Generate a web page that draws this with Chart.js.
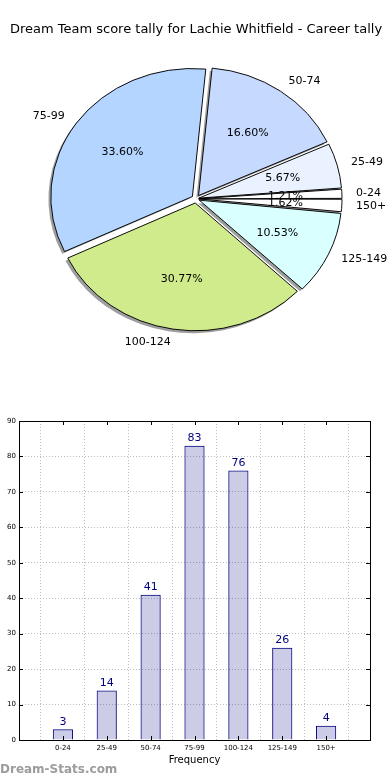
<!DOCTYPE html>
<html>
<head>
<meta charset="utf-8">
<script src="https://cdn.jsdelivr.net/npm/chart.js@4.4.1/dist/chart.umd.min.js"></script>
<style>
  html, body { margin: 0; padding: 0; background: #fff; }
  body { width: 390px; height: 780px; position: relative; overflow: hidden; }
  #pieWrap { position: absolute; left: 0; top: 0; width: 390px; height: 400px; }
  #barWrap { position: absolute; left: 0; top: 400px; width: 390px; height: 380px; }
  #credit { position: absolute; left: 0; top: 762px; font: bold 12px "DejaVu Sans", sans-serif; color: #9c9c9c; }
</style>
</head>
<body>
<div id="pieWrap"><canvas id="pieChart" width="390" height="400"></canvas></div>
<div id="barWrap"><canvas id="barChart" width="390" height="380"></canvas></div>
<div id="credit">Dream-Stats.com</div>

<script>
// Chart data
const chartTitle = "Dream Team score tally for Lachie Whitfield - Career tally";
const categories = ["0-24", "25-49", "50-74", "75-99", "100-124", "125-149", "150+"];
const frequencies = [3, 14, 41, 83, 76, 26, 4];
const sliceColors = ["#ffffff", "#eaf2ff", "#c6d9ff", "#b3d5ff", "#d0eb8b", "#d9ffff", "#ffffff"];
const yMax = 90;
const yStep = 10;
const xTitle = "Frequency";

const FONT = '"DejaVu Sans", sans-serif';
const ySquash = 0.904; // the reference pie is drawn slightly flattened
const explode = 5;     // px every slice is pushed out

Chart.defaults.font.family = FONT;
Chart.defaults.color = "#000";

// pie goes counter-clockwise from 3 o'clock in the original, so feed it reversed
const pieLabels = categories.slice().reverse();
const pieValues = frequencies.slice().reverse();
const pieColors = sliceColors.slice().reverse();
const total = frequencies.reduce((a, b) => a + b, 0);

// Chart.js moves an arc by offset/4 * (1 + fix), undo that so all slices move the same
function sliceOffset(ctx) {
  const circ = (2 * Math.PI * pieValues[ctx.dataIndex]) / total;
  const fix = 1 - Math.sin(Math.min(Math.PI, circ));
  return (4 * explode) / (1 + fix);
}

function sliceCenter(arc) {
  const mid = (arc.startAngle + arc.endAngle) / 2;
  return {
    mid: mid,
    x: arc.x + Math.cos(mid) * explode,
    y: arc.y + Math.sin(mid) * explode * ySquash,
  };
}

// flatten the pie, draw the drop shadows underneath and the labels on top
const pieDecor = {
  id: "pieDecor",
  beforeDatasetsDraw(chart) {
    const ctx = chart.ctx;
    const arcs = chart.getDatasetMeta(0).data;
    const cy = arcs[0].y;
    ctx.save();
    ctx.translate(0, cy);
    ctx.scale(1, ySquash);
    ctx.translate(0, -cy);

    // shadows
    ctx.save();
    ctx.translate(-2.5, 2.8);
    ctx.fillStyle = "rgba(40,40,40,0.45)";
    arcs.forEach(function (arc) {
      const mid = (arc.startAngle + arc.endAngle) / 2;
      const x = arc.x + Math.cos(mid) * explode;
      const y = arc.y + Math.sin(mid) * explode;
      ctx.beginPath();
      ctx.moveTo(x, y);
      ctx.arc(x, y, arc.outerRadius, arc.startAngle, arc.endAngle);
      ctx.closePath();
      ctx.fill();
    });
    ctx.restore();
  },
  afterDatasetsDraw(chart) {
    const ctx = chart.ctx;
    ctx.restore();

    const arcs = chart.getDatasetMeta(0).data;
    ctx.save();
    ctx.font = "11px " + FONT;
    ctx.fillStyle = "#000";
    ctx.textBaseline = "middle";
    arcs.forEach(function (arc, i) {
      const c = sliceCenter(arc);
      const r = arc.outerRadius;
      const cos = Math.cos(c.mid);
      const sin = Math.sin(c.mid);

      // percentage inside
      ctx.textAlign = "center";
      const pct = ((pieValues[i] / total) * 100).toFixed(2) + "%";
      ctx.fillText(pct, c.x + cos * r * 0.6, c.y + sin * r * 0.6 * ySquash);

      // category outside
      ctx.textAlign = cos > 0 ? "left" : "right";
      ctx.fillText(pieLabels[i], c.x + cos * r * 1.1, c.y + sin * r * 1.1 * ySquash);
    });
    ctx.restore();
  },
};

// Initialize pie chart
function initPieChart() {
  new Chart(document.getElementById("pieChart"), {
    type: "pie",
    data: {
      labels: pieLabels,
      datasets: [
        {
          data: pieValues,
          backgroundColor: pieColors,
          borderColor: "#000",
          borderWidth: 1,
          offset: sliceOffset,
        },
      ],
    },
    options: {
      responsive: false,
      animation: false,
      devicePixelRatio: 1,
      rotation: 90,
      radius: 141,
      layout: { padding: { left: 2, right: 0, top: 0, bottom: 48 } },
      plugins: {
        legend: { display: false },
        tooltip: { enabled: false },
        title: {
          display: true,
          text: chartTitle,
          color: "#000",
          font: { size: 13, weight: "normal", family: FONT },
          padding: { top: 22, bottom: 8 },
        },
      },
    },
    plugins: [pieDecor],
  });
}

// frame, inward ticks and value labels for the bar chart
const barDecor = {
  id: "barDecor",
  afterDatasetsDraw(chart) {
    const ctx = chart.ctx;
    const a = chart.chartArea;
    const xs = chart.scales.x;
    const ys = chart.scales.y;

    ctx.save();
    ctx.strokeStyle = "#000";
    ctx.lineWidth = 1;
    ctx.beginPath();
    ys.ticks.forEach(function (t) {
      const y = Math.round(ys.getPixelForValue(t.value)) + 0.5;
      ctx.moveTo(a.left, y); ctx.lineTo(a.left + 4, y);
      ctx.moveTo(a.right, y); ctx.lineTo(a.right - 4, y);
    });
    for (let i = 1; i <= categories.length; i++) {
      const x = Math.round(xs.getPixelForValue(i)) + 0.5;
      ctx.moveTo(x, a.bottom); ctx.lineTo(x, a.bottom - 4);
      ctx.moveTo(x, a.top); ctx.lineTo(x, a.top + 4);
    }
    ctx.stroke();
    ctx.strokeRect(Math.round(a.left) + 0.5, Math.round(a.top) + 0.5,
      Math.round(a.right - a.left), Math.round(a.bottom - a.top));

    // value labels
    ctx.font = "11px " + FONT;
    ctx.fillStyle = "#000080";
    ctx.textAlign = "center";
    ctx.textBaseline = "bottom";
    chart.getDatasetMeta(0).data.forEach(function (bar, i) {
      const v = chart.data.datasets[0].data[i];
      if (v === null) return;
      ctx.fillText(String(v), bar.x, bar.y - 2);
    });
    ctx.restore();
  },
};

// Initialize bar chart
function initBarChart() {
  new Chart(document.getElementById("barChart"), {
    type: "bar",
    data: {
      // empty slots either side, like the original axis range
      labels: [""].concat(categories, [""]),
      datasets: [
        {
          data: [null].concat(frequencies, [null]),
          backgroundColor: "rgba(0,0,128,0.2)",
          borderColor: "#000080",
          borderWidth: 1,
          barPercentage: 0.46,
          categoryPercentage: 1,
        },
      ],
    },
    options: {
      responsive: false,
      animation: false,
      devicePixelRatio: 1,
      layout: { padding: { left: 0, right: 20, top: 21, bottom: 0 } },
      plugins: {
        legend: { display: false },
        tooltip: { enabled: false },
      },
      scales: {
        x: {
          offset: false,
          grid: { color: "#bdbdbd", drawTicks: false },
          border: { display: false, dash: [1, 2] },
          ticks: { font: { size: 7 }, color: "#000", padding: 4, maxRotation: 0, autoSkip: false },
          title: {
            display: true,
            text: xTitle,
            color: "#000",
            font: { size: 10, family: FONT },
            padding: { top: 2, bottom: 14 },
          },
          afterFit: function (scale) { scale.height = 40; },
        },
        y: {
          min: 0,
          max: yMax,
          grid: { color: "#bdbdbd", drawTicks: false },
          border: { display: false, dash: [1, 2] },
          ticks: { stepSize: yStep, font: { size: 7 }, color: "#000", padding: 3 },
          afterFit: function (scale) { scale.width = 19; },
        },
      },
    },
    plugins: [barDecor],
  });
}

document.addEventListener("DOMContentLoaded", function () {
  initPieChart();
  initBarChart();
});
</script>
</body>
</html>
